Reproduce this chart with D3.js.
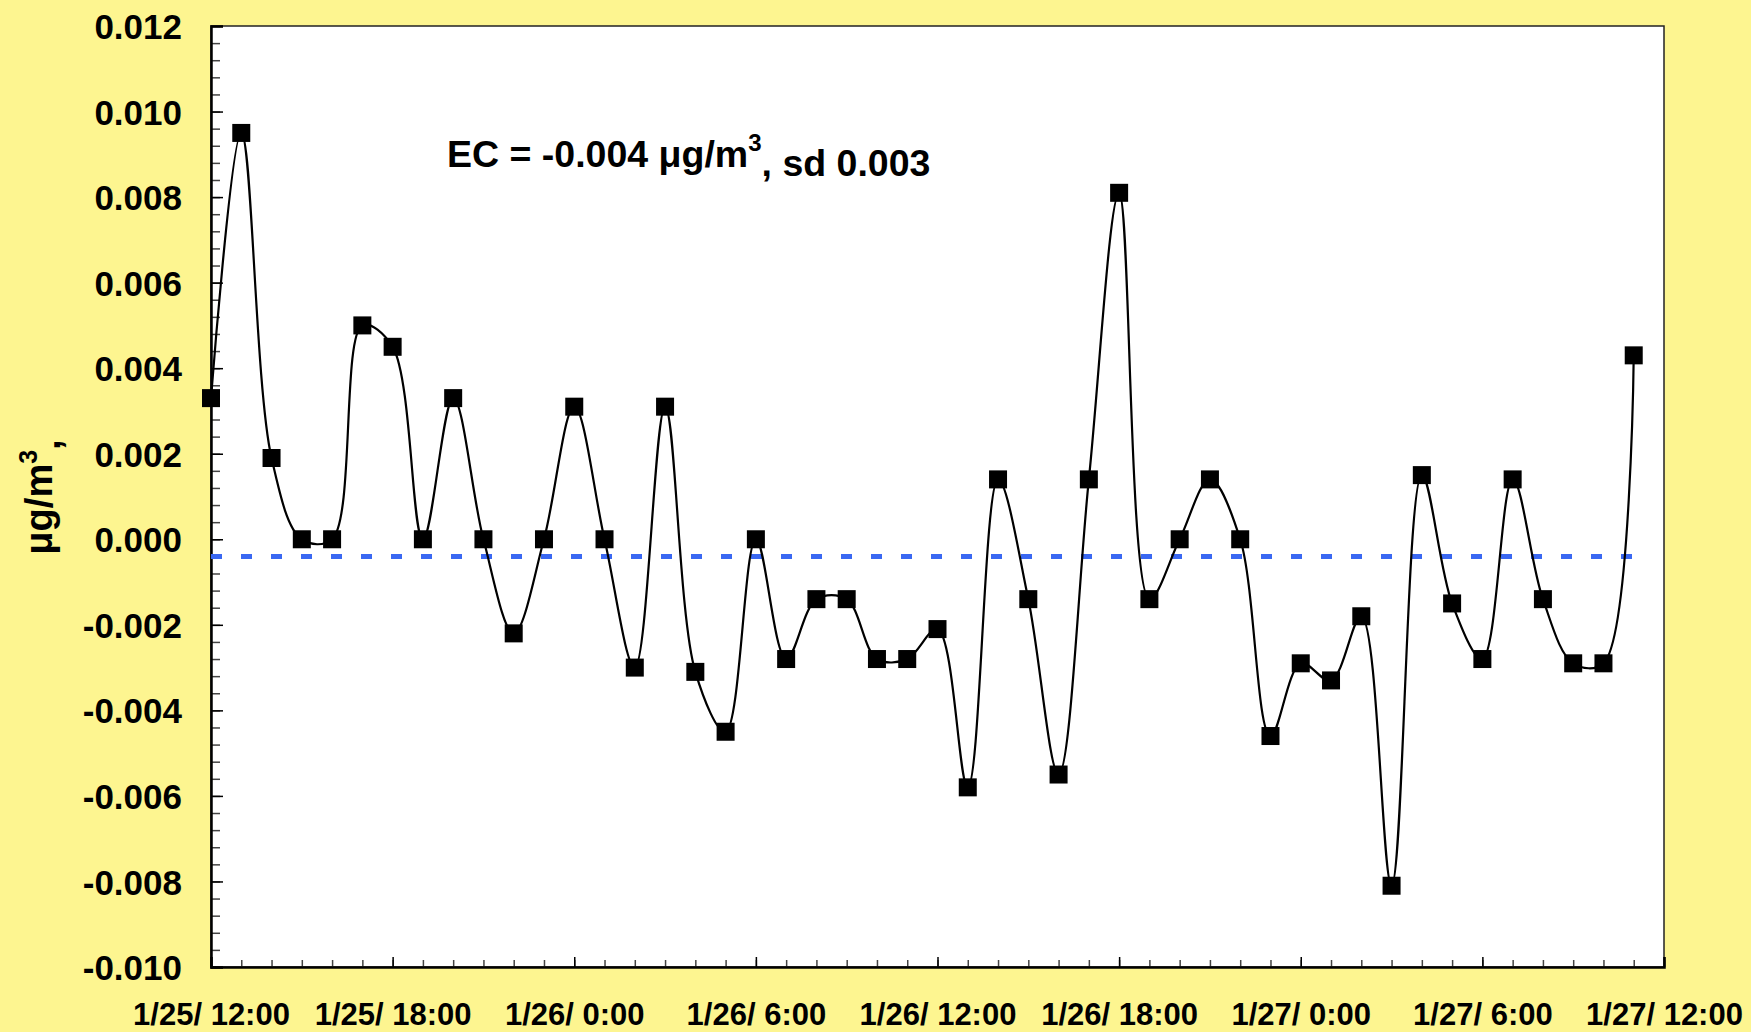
<!DOCTYPE html>
<html>
<head>
<meta charset="utf-8">
<script src="https://cdn.jsdelivr.net/npm/d3@7"></script>
<style>
body { margin: 0; background: #fdf590; }
svg { display: block; }
text { font-family: "Liberation Sans", Arial, sans-serif; font-weight: bold; fill: #000; }
</style>
</head>
<body>
<script>
var startTime = new Date(2003, 0, 25, 12, 0)
var ecValues = [0.0033, 0.0095, 0.0019, 0.0000, 0.0000, 0.0050, 0.0045, 0.0000,
                0.0033, 0.0000, -0.0022, 0.0000, 0.0031, 0.0000, -0.0030, 0.0031,
                -0.0031, -0.0045, 0.0000, -0.0028, -0.0014, -0.0014, -0.0028, -0.0028,
                -0.0021, -0.0058, 0.0014, -0.0014, -0.0055, 0.0014, 0.0081, -0.0014,
                0.0000, 0.0014, 0.0000, -0.0046, -0.0029, -0.0033, -0.0018, -0.0081,
                0.0015, -0.0015, -0.0028, 0.0014, -0.0014, -0.0029, -0.0029, 0.0043]
var meanValue = -0.0004
var yTicks = [0.012, 0.010, 0.008, 0.006, 0.004, 0.002, 0.000, -0.002, -0.004, -0.006, -0.008, -0.010]
var annotation = ["EC = -0.004 μg/m", "3", ", sd 0.003"]

var width = 1751, height = 1032
// nao usar "top" como nome global (window.top)
var plotLeft = 211, plotRight = 1664, plotTop = 26, plotBottom = 967

var data = ecValues.map(function(v, i) { return {t: d3.timeHour.offset(startTime, i), v: v} })

var x = d3.scaleTime().domain([startTime, d3.timeHour.offset(startTime, 48)]).range([plotLeft, plotRight])
var y = d3.scaleLinear().domain([-0.010, 0.012]).range([plotBottom, plotTop])

// d3.format usa o sinal de menos unicode; o original usa hifen
var fmtY = function(d) { return d3.format(".3f")(d).replace("\u2212", "-") }

var svg = d3.select("body").append("svg").attr("width", width).attr("height", height)

// area do grafico
svg.append("rect").attr("x", plotLeft).attr("y", plotTop).attr("width", plotRight - plotLeft).attr("height", plotBottom - plotTop)
    .attr("fill", "#fff").attr("stroke", "#222").attr("stroke-width", 1.5)

// ticks menores (para dentro)
svg.append("g").attr("transform", "translate(" + plotLeft + ",0)")
    .call(d3.axisLeft(y).tickValues(d3.range(-0.010, 0.0121, 0.0004)).tickSize(-9).tickFormat(""))
    .call(function(g) { g.select(".domain").remove(); g.selectAll("line").attr("stroke", "#444").attr("stroke-width", 1.5) })
svg.append("g").attr("transform", "translate(0," + plotBottom + ")")
    .call(d3.axisBottom(x).ticks(d3.timeHour.every(1)).tickSize(-7).tickFormat(""))
    .call(function(g) { g.select(".domain").remove(); g.selectAll("line").attr("stroke", "#444").attr("stroke-width", 1.5) })

// eixo y
var yAxis = svg.append("g").attr("transform", "translate(" + plotLeft + ",0)")
    .call(d3.axisLeft(y).tickValues(yTicks).tickSize(-12).tickPadding(29).tickFormat(fmtY))
yAxis.select(".domain").attr("stroke-width", 2.5)
yAxis.selectAll("line").attr("stroke", "#000").attr("stroke-width", 1.5)
yAxis.selectAll("text").style("font-size", "35px").attr("dy", "0.36em")

// eixo x
var xAxis = svg.append("g").attr("transform", "translate(0," + plotBottom + ")")
    .call(d3.axisBottom(x).ticks(d3.timeHour.every(6)).tickSize(-10).tickPadding(36).tickFormat(d3.timeFormat("%-m/%-d/ %-H:%M")))
xAxis.select(".domain").attr("stroke-width", 2.5)
xAxis.selectAll("line").attr("stroke", "#000").attr("stroke-width", 1.5)
xAxis.selectAll("text").style("font-size", "31px")

// linha da media
svg.append("line")
    .attr("x1", x(data[0].t)).attr("x2", x(data[data.length - 1].t) + 3)
    .attr("y1", y(meanValue)).attr("y2", y(meanValue))
    .attr("stroke", "#3a68f2").attr("stroke-width", 5).attr("stroke-dasharray", "11,19")

// curva suave
var line = d3.line().x(function(d) { return x(d.t) }).y(function(d) { return y(d.v) }).curve(d3.curveCatmullRom.alpha(0.5))
svg.append("path").datum(data).attr("d", line).attr("fill", "none").attr("stroke", "#000").attr("stroke-width", 2.2)

// marcadores
svg.selectAll("rect.pt").data(data).enter().append("rect").attr("class", "pt")
    .attr("x", function(d) { return x(d.t) - 9 }).attr("y", function(d) { return y(d.v) - 9 })
    .attr("width", 18).attr("height", 18).attr("fill", "#000")

// titulo do eixo y
var yt = svg.append("text").attr("transform", "translate(52,497) rotate(-90)").attr("text-anchor", "middle")
    .style("font-size", "38px")
yt.append("tspan").text("μg/m")
yt.append("tspan").attr("dy", "-0.6em").style("font-size", "25px").text("3")
yt.append("tspan").attr("dy", "0.6em").text(",")

// anotacao
var an = svg.append("text").attr("x", 447).attr("y", 167).style("font-size", "37.5px")
an.append("tspan").text(annotation[0])
an.append("tspan").attr("dy", "-0.65em").style("font-size", "24px").text(annotation[1])
an.append("tspan").attr("dy", "0.65em").text(annotation[2])
</script>
</body>
</html>
